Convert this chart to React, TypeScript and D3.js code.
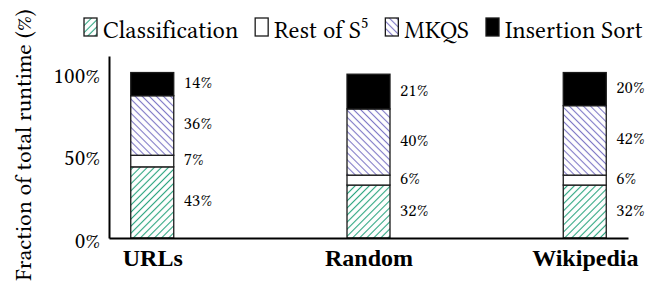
import { useRef, useEffect } from 'react'
import * as d3 from 'd3'

// input sets and runtime share of each S5 phase (percent)
const datasets = ['URLs', 'Random', 'Wikipedia']
const classification = [43, 32, 32]
const restOfS5 = [7, 6, 6]
const mkqs = [36, 40, 42]
const insertionSort = [14, 21, 20]

const phases = ['Classification', 'Rest of S5', 'MKQS', 'Insertion Sort']
const yTicks = [0, 50, 100]

const FONT = "'Libertinus Serif', 'Liberation Serif', serif"
const BOLD_FONT = "'Liberation Serif', 'Libertinus Serif', serif"

const App = () => {
  const svgRef = useRef<SVGSVGElement>(null)

  useEffect(() => {
    const svg = d3.select(svgRef.current)
    svg.selectAll('*').remove()

    const width = 662
    const height = 283
    const margin = { top: 56, left: 109, right: 34, bottom: 45 }

    const rows = datasets.map((name, i) => ({
      name,
      'Classification': classification[i],
      'Rest of S5': restOfS5[i],
      'MKQS': mkqs[i],
      'Insertion Sort': insertionSort[i],
    }))

    const series = d3.stack<any>().keys(phases)(rows)

    const x = d3
      .scalePoint()
      .domain(datasets)
      .range([margin.left, width - margin.right])
      .padding(0.2)

    const y = d3
      .scaleLinear()
      .domain([0, 110])
      .range([height - margin.bottom, margin.top])

    const barWidth = 43

    // hatch patterns
    const defs = svg.append('defs')
    const hatch = (id: string, color: string, dir: 1 | -1) => {
      const s = 5
      const p = defs
        .append('pattern')
        .attr('id', id)
        .attr('patternUnits', 'userSpaceOnUse')
        .attr('width', s)
        .attr('height', s)
        .attr('patternTransform', `rotate(${dir * 45})`)
      p.append('rect').attr('width', s).attr('height', s).attr('fill', 'white')
      p.append('line')
        .attr('x1', s / 2)
        .attr('x2', s / 2)
        .attr('y1', 0)
        .attr('y2', s)
        .attr('stroke', color)
        .attr('stroke-width', 1.1)
    }
    hatch('hatch-green', '#2ba57f', 1)
    hatch('hatch-purple', '#7f79c6', -1)

    const fills: Record<string, string> = {
      'Classification': 'url(#hatch-green)',
      'Rest of S5': 'white',
      'MKQS': 'url(#hatch-purple)',
      'Insertion Sort': 'black',
    }

    // bars
    svg
      .append('g')
      .selectAll('g')
      .data(series)
      .join('g')
      .attr('fill', (s) => fills[s.key])
      .selectAll('rect')
      .data((s) => s)
      .join('rect')
      .attr('x', (d) => x(d.data.name)! - barWidth / 2)
      .attr('y', (d) => y(d[1]))
      .attr('width', barWidth)
      .attr('height', (d) => y(d[0]) - y(d[1]))
      .attr('stroke', '#1a1a1a')
      .attr('stroke-width', 1.3)

    // value labels
    svg
      .append('g')
      .selectAll('g')
      .data(series)
      .join('g')
      .selectAll('text')
      .data((s) => s)
      .join('text')
      .attr('x', (d) => x(d.data.name)! + barWidth / 2 + 10)
      .attr('y', (d) => (y(d[0]) + y(d[1])) / 2 - 2)
      .attr('dominant-baseline', 'central')
      .style('font-family', FONT)
      .style('font-size', '18px')
      .text((d) => `${Math.round(d[1] - d[0])}%`)

    // y axis
    const yAxis = svg
      .append('g')
      .attr('transform', `translate(${margin.left},0)`)
      .call(
        d3
          .axisLeft(y)
          .tickValues(yTicks)
          .tickFormat((d) => `${d}%`)
          .tickSize(0)
          .tickPadding(9)
      )
    yAxis
      .selectAll('text')
      .style('font-family', FONT)
      .style('font-size', '23px')
      .attr('dy', '0.42em')

    // x axis
    const xAxis = svg
      .append('g')
      .attr('transform', `translate(0,${height - margin.bottom})`)
      .call(d3.axisBottom(x).tickSize(0).tickPadding(11))
    xAxis
      .selectAll('text')
      .style('font-family', BOLD_FONT)
      .style('font-size', '24px')
      .style('font-weight', 'bold')
      .attr('fill', 'black')

    svg.selectAll('.domain').attr('stroke', 'black').attr('stroke-width', 2)

    // y title
    svg
      .append('text')
      .attr('transform', `translate(31,145) rotate(-90)`)
      .attr('text-anchor', 'middle')
      .style('font-family', FONT)
      .style('font-size', '23.5px')
      .text('Fraction of total runtime (%)')

    // legend
    const legend = svg.append('g').style('font-family', FONT).style('font-size', '24.5px')
    let lx = 84
    phases.forEach((key) => {
      legend
        .append('rect')
        .attr('x', lx)
        .attr('y', 18)
        .attr('width', 13)
        .attr('height', 18)
        .attr('fill', fills[key])
        .attr('stroke', '#1a1a1a')
        .attr('stroke-width', 1.3)
      const t = legend.append('text').attr('x', lx + 19).attr('y', 37.5)
      if (key === 'Rest of S5') {
        t.append('tspan').text('Rest of S')
        t.append('tspan').style('font-size', '16px').attr('dy', -10).text('5')
      } else {
        t.text(key)
      }
      const w = (t.node() as SVGTextElement).getComputedTextLength()
      lx += 19 + w + 17
    })
  }, [])

  return (
    <div style={{ position: 'absolute', left: 0, top: 0 }}>
      <svg width="662" height="283" ref={svgRef} style={{ display: 'block' }}></svg>
    </div>
  )
}

export default App
